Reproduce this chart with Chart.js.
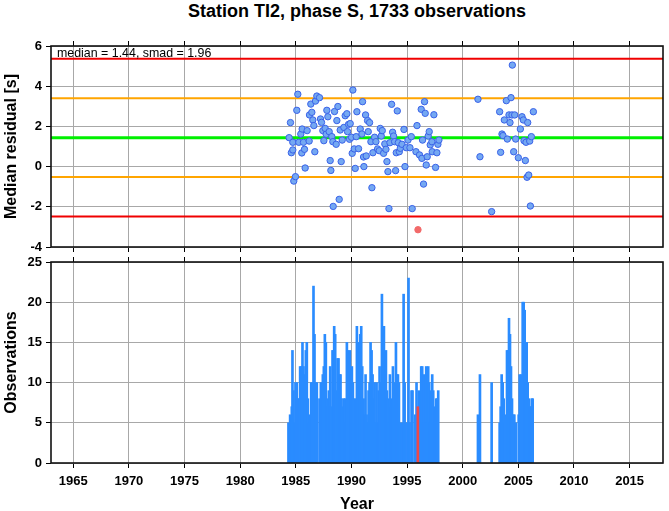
<!DOCTYPE html>
<html lang="en">
<head>
    <meta charset="UTF-8">
    <title>Station TI2, phase S</title>
    <script src="https://cdn.jsdelivr.net/npm/chart.js"></script>
    <style>
        body { margin: 0; background: #fff; }
        #wrap { position: relative; width: 669px; height: 511px; font-family: "Liberation Sans", Arial, sans-serif; }
        #title { position: absolute; left: 51px; width: 612px; top: -1px; text-align: center;
                 font-weight: bold; font-size: 18px; line-height: 24px; color: #000; }
        canvas { position: absolute; left: 0; }
        #resChart { top: 0; }
        #obsChart { top: 255px; }
    </style>
</head>
<body>
    <div id="wrap">
        <div id="title">Station TI2, phase S, 1733 observations</div>
        <canvas id="resChart" width="669" height="255"></canvas>
        <canvas id="obsChart" width="669" height="256"></canvas>
    </div>

    <script>
        // median residual per period (year, seconds)
        const pointYears = [
            1984.40, 1984.52, 1984.60, 1984.73, 1984.73, 1984.82, 1984.97, 1985.09, 1985.18, 1985.27,
            1985.45, 1985.54, 1985.57, 1985.69, 1985.78, 1985.84, 1986.02, 1986.20, 1986.23, 1986.35,
            1986.44, 1986.53, 1986.62, 1986.71, 1986.77, 1986.89, 1987.13, 1987.22, 1987.31, 1987.43,
            1987.52, 1987.64, 1987.73, 1987.79, 1987.88, 1988.00, 1988.09, 1988.15, 1988.24, 1988.33,
            1988.36, 1988.48, 1988.63, 1988.69, 1988.78, 1988.90, 1988.99, 1989.08, 1989.17, 1989.32,
            1989.44, 1989.59, 1989.65, 1989.74, 1989.83, 1989.89, 1990.01, 1990.07, 1990.13, 1990.25,
            1990.34, 1990.43, 1990.49, 1990.64, 1990.79, 1990.94, 1991.00, 1991.09, 1991.12, 1991.27,
            1991.33, 1991.45, 1991.51, 1991.63, 1991.75, 1991.84, 1991.93, 1992.08, 1992.20, 1992.35,
            1992.50, 1992.59, 1992.68, 1992.77, 1992.89, 1993.00, 1993.10, 1993.19, 1993.28, 1993.37,
            1993.46, 1993.61, 1993.70, 1993.79, 1993.88, 1993.97, 1994.03, 1994.12, 1994.21, 1994.30,
            1994.39, 1994.54, 1994.72, 1994.81, 1994.93, 1995.08, 1995.26, 1995.38, 1995.46, 1995.80,
            1995.89, 1995.98, 1996.12, 1996.27, 1996.33, 1996.39, 1996.48, 1996.57, 1996.63, 1996.72,
            1996.81, 1996.90, 1996.99, 1997.08, 1997.23, 1997.26, 1997.41, 1997.56, 1997.68, 1997.77,
            1997.86, 2001.37, 2001.55, 2002.60, 2003.32, 2003.41, 2003.53, 2003.62, 2003.74, 2003.92,
            2004.01, 2004.16, 2004.25, 2004.34, 2004.43, 2004.46, 2004.58, 2004.67, 2004.76, 2005.00,
            2005.18, 2005.33, 2005.45, 2005.51, 2005.63, 2005.69, 2005.78, 2005.84, 2005.93, 2006.02,
            2006.08, 2006.17, 2006.35
        ];
        const pointMedians = [
            1.44, 2.19, 0.69, 1.21, 0.83, -0.72, -0.50, 2.80, 3.60, 1.21,
            1.62, 0.68, 1.87, 1.21, 0.86, -0.07, 1.79, 1.27, 2.57, 3.11,
            2.70, 2.32, 2.04, 0.74, 3.26, 3.51, 3.43, 2.37, 2.20, 1.79,
            1.29, 1.90, 1.61, 2.80, 2.48, 1.74, 0.30, -0.19, 1.49, 1.24,
            -1.98, 2.74, 1.11, 2.29, 2.99, -1.63, 1.82, 0.25, 1.32, 1.95,
            2.53, 2.63, 1.74, 2.10, 1.36, 2.14, 1.46, 0.66, 3.81, 0.88,
            -0.09, 1.49, 2.73, 0.89, 1.87, 1.62, 3.23, 0.48, 0.00, 2.57,
            0.53, 2.29, 1.74, 2.19, 1.24, -1.05, 0.69, 1.46, 1.24, 0.88,
            0.79, 1.90, 1.52, 1.79, 0.66, 1.13, 0.86, 0.25, -0.25, -2.09,
            1.19, 3.10, 1.71, 1.52, 1.24, -0.20, 0.69, 2.77, 1.19, 0.74,
            0.91, 1.11, 1.85, 0.00, 0.94, 1.32, 0.94, 1.49, -2.09, 0.74,
            2.04, -3.14, 0.58, 2.85, 0.41, 1.32, -0.87, 3.23, 2.65, 0.08,
            0.49, 1.52, 1.74, 1.08, 1.24, 0.74, 2.58, -0.04, 0.69, 1.11,
            1.32, 3.35, 0.49, -2.24, 2.73, 0.71, 1.62, 1.54, 2.32, 3.28,
            1.37, 2.57, 2.19, 3.43, 2.57, 5.05, 0.74, 2.57, 1.37, 0.44,
            1.87, 2.48, 2.32, 1.29, 0.30, 1.21, -0.53, 2.19, -0.42, 1.27,
            -1.96, 1.49, 2.73
        ];

        // observations per period
        const barYears = [
            1984.34, 1984.49, 1984.64, 1984.70, 1984.79, 1984.88, 1984.97, 1985.09, 1985.18, 1985.30,
            1985.39, 1985.51, 1985.60, 1985.69, 1985.78, 1985.90, 1985.99, 1986.08, 1986.17, 1986.29,
            1986.38, 1986.47, 1986.59, 1986.68, 1986.77, 1986.89, 1987.13, 1987.25, 1987.34, 1987.43,
            1987.52, 1987.61, 1987.70, 1987.79, 1987.88, 1987.97, 1988.09, 1988.18, 1988.30, 1988.39,
            1988.45, 1988.54, 1988.63, 1988.75, 1988.84, 1988.93, 1989.02, 1989.11, 1989.23, 1989.32,
            1989.41, 1989.50, 1989.59, 1989.68, 1989.77, 1989.86, 1989.95, 1990.04, 1990.13, 1990.22,
            1990.31, 1990.40, 1990.49, 1990.58, 1990.67, 1990.79, 1990.88, 1990.97, 1991.09, 1991.18,
            1991.27, 1991.36, 1991.45, 1991.54, 1991.63, 1991.72, 1991.81, 1991.90, 1991.99, 1992.08,
            1992.17, 1992.26, 1992.35, 1992.44, 1992.53, 1992.62, 1992.74, 1992.83, 1992.92, 1993.01,
            1993.10, 1993.19, 1993.28, 1993.37, 1993.46, 1993.55, 1993.64, 1993.73, 1993.82, 1993.91,
            1994.00, 1994.09, 1994.18, 1994.27, 1994.36, 1994.57, 1994.69, 1994.78, 1994.87, 1995.05,
            1995.13, 1995.22, 1995.40, 1995.49, 1995.73, 1995.85, 1995.97, 1996.06, 1996.18, 1996.27,
            1996.36, 1996.45, 1996.54, 1996.63, 1996.72, 1996.81, 1996.90, 1996.99, 1997.08, 1997.17,
            1997.26, 1997.35, 1997.44, 1997.53, 1997.62, 1997.71, 1997.80,
            2001.37, 2001.55, 2002.60, 2003.32, 2003.41, 2003.50, 2003.59, 2003.68, 2003.80, 2003.89,
            2003.98, 2004.07, 2004.16, 2004.25, 2004.34, 2004.43, 2004.55, 2004.64, 2004.76, 2005.03,
            2005.12, 2005.21, 2005.30, 2005.39, 2005.48, 2005.57, 2005.66, 2005.75, 2005.84, 2005.93,
            2006.02, 2006.11, 2006.20, 2006.29
        ];
        const barCounts = [
            5, 6, 7, 14, 9, 5, 10, 10, 8, 8,
            12, 12, 15, 12, 11, 14, 15, 8, 5, 6,
            10, 10, 22, 16, 10, 10, 8, 10, 10, 11,
            12, 16, 15, 8, 7, 9, 12, 7, 14, 14,
            17, 16, 9, 13, 13, 11, 11, 8, 7, 8,
            8, 5, 15, 14, 9, 14, 11, 12, 10, 8,
            5, 8, 17, 15, 14, 16, 17, 12, 8, 6,
            11, 6, 5, 9, 10, 15, 14, 11, 8, 10,
            5, 10, 5, 9, 12, 10, 21, 17, 17, 10,
            14, 9, 8, 5, 11, 7, 8, 12, 10, 7,
            15, 11, 11, 10, 5, 5, 21, 10, 5, 5,
            23, 5, 9, 9, 6, 10, 7, 9, 6, 12,
            12, 5, 11, 5, 12, 5, 12, 10, 5, 9,
            11, 9, 5, 7, 8, 8, 9,
            6, 11, 10, 5, 7, 11, 10, 8, 5, 6,
            14, 14, 18, 16, 12, 8, 6, 6, 5, 6,
            11, 5, 11, 20, 20, 19, 10, 15, 10, 8,
            7, 7, 8, 8
        ];

        // axis ticks
        const yearTicks = [1965, 1970, 1975, 1980, 1985, 1990, 1995, 2000, 2005, 2010, 2015];
        const residualTicks = [-4, -2, 0, 2, 4, 6];
        const countTicks = [0, 5, 10, 15, 20, 25];

        const median = 1.44;
        const smad = 1.96;
        const yearMin = 1963, yearMax = 2018;

        const fontName = '"Liberation Sans", Arial, sans-serif';
        const tickFont = { family: fontName, size: 13, weight: 'bold' };
        const axisTitleFont = { family: fontName, size: 16, weight: 'bold', lineHeight: 1 };

        // outliers: more than 2 smad away from the median
        const isOutlier = v => Math.abs(v - median) > 2 * smad;
        const outlierYears = pointYears.filter((y, i) => isOutlier(pointMedians[i]));
        const barIsOutlier = y => outlierYears.some(o => Math.abs(o - y) < 0.05);

        function hLine(level, color, width) {
            return {
                type: 'line',
                data: [{ x: yearMin, y: level }, { x: yearMax, y: level }],
                borderColor: color,
                borderWidth: width,
                pointRadius: 0,
                fill: false
            };
        }

        // frame around the plot area + median label
        const framePlugin = {
            id: 'frame',
            afterDraw(chart, args, opts) {
                const a = chart.chartArea, c = chart.ctx;
                c.save();
                c.strokeStyle = '#111';
                c.lineWidth = 1.6;
                c.strokeRect(a.left, a.top, a.right - a.left, a.bottom - a.top);
                if (opts.label) {
                    c.fillStyle = '#000';
                    c.font = '12.4px ' + fontName;
                    c.textBaseline = 'alphabetic';
                    c.fillText(opts.label, a.left + 6, a.top + 11);
                }
                c.restore();
            }
        };
        Chart.register(framePlugin);

        const gridOpts = { color: '#a8a8a8', lineWidth: 1, tickColor: '#000', tickLength: 5, offset: false };
        const setTicks = list => (s => { s.ticks = list.map(v => ({ value: v })); });
        const noPad = s => { s.paddingTop = 0; s.paddingBottom = 0; s.paddingLeft = 0; s.paddingRight = 0; };

        function xScale(showLabels, bottomHeight) {
            return {
                type: 'linear',
                min: yearMin,
                max: yearMax,
                offset: false,
                grid: gridOpts,
                border: { display: false },
                afterBuildTicks: setTicks(yearTicks),
                ticks: { display: showLabels, font: tickFont, color: '#000', padding: 6,
                         callback: v => String(v) },
                title: { display: showLabels, text: 'Year', font: axisTitleFont, color: '#000', padding: { top: 0, bottom: -2 } },
                afterFit: s => { s.height = bottomHeight; noPad(s); }
            };
        }
        function topTicks() {
            return {
                type: 'linear',
                position: 'top',
                min: yearMin,
                max: yearMax,
                offset: false,
                grid: { drawOnChartArea: false, tickColor: '#000', tickLength: 5, offset: false },
                border: { display: false },
                afterBuildTicks: setTicks(yearTicks),
                ticks: { display: false },
                afterFit: s => { s.height = 5; noPad(s); }
            };
        }
        function yScale(min, max, list, text) {
            return {
                min: min,
                max: max,
                grid: gridOpts,
                border: { display: false },
                afterBuildTicks: setTicks(list),
                ticks: { font: tickFont, color: '#000', padding: 4 },
                title: { display: true, text: text, font: axisTitleFont, color: '#000', padding: { top: 4, bottom: 0 } },
                afterFit: s => { s.width = 51; noPad(s); }
            };
        }

        // residual panel
        new Chart(document.getElementById('resChart'), {
            type: 'scatter',
            data: {
                datasets: [
                    {
                        type: 'scatter',
                        data: pointYears.map((y, i) => ({ x: y, y: pointMedians[i] })),
                        backgroundColor: pointMedians.map(v => isOutlier(v) ? '#f26a6a' : '#74a8f2'),
                        borderColor: pointMedians.map(v => isOutlier(v) ? '#f26a6a' : '#3a62e8'),
                        borderWidth: 1,
                        pointRadius: 3.2
                    },
                    hLine(median, '#00f000', 3),
                    hLine(median + smad, '#ffa500', 2),
                    hLine(median - smad, '#ffa500', 2),
                    hLine(median + 2 * smad, '#f00000', 2),
                    hLine(median - 2 * smad, '#f00000', 2)
                ]
            },
            options: {
                responsive: false,
                animation: false,
                layout: { padding: { top: 41, right: 6, left: 0, bottom: 0 } },
                plugins: {
                    legend: { display: false },
                    tooltip: { enabled: false },
                    frame: { label: 'median = ' + median.toFixed(2) + ', smad = ' + smad.toFixed(2) }
                },
                scales: {
                    x: xScale(false, 8),
                    x2: topTicks(),
                    y: yScale(-4, 6, residualTicks, 'Median residual [s]')
                }
            }
        });

        // observation count panel (outlier periods drawn on top in red)
        const barPoints = barYears.map((y, i) => ({ x: y, y: barCounts[i] }));
        new Chart(document.getElementById('obsChart'), {
            type: 'bar',
            data: {
                datasets: [
                    {
                        data: barPoints.filter(p => barIsOutlier(p.x)),
                        backgroundColor: '#f04848',
                        borderWidth: 0,
                        barThickness: 2
                    },
                    {
                        data: barPoints.filter(p => !barIsOutlier(p.x)),
                        backgroundColor: '#2a8cff',
                        borderWidth: 0,
                        barThickness: 2
                    }
                ]
            },
            options: {
                responsive: false,
                animation: false,
                grouped: false,
                layout: { padding: { top: 2, right: 6, left: 0, bottom: 0 } },
                plugins: {
                    legend: { display: false },
                    tooltip: { enabled: false },
                    frame: {}
                },
                scales: {
                    x: xScale(true, 48),
                    x2: topTicks(),
                    y: yScale(0, 25, countTicks, 'Observations')
                }
            }
        });
    </script>
</body>
</html>
